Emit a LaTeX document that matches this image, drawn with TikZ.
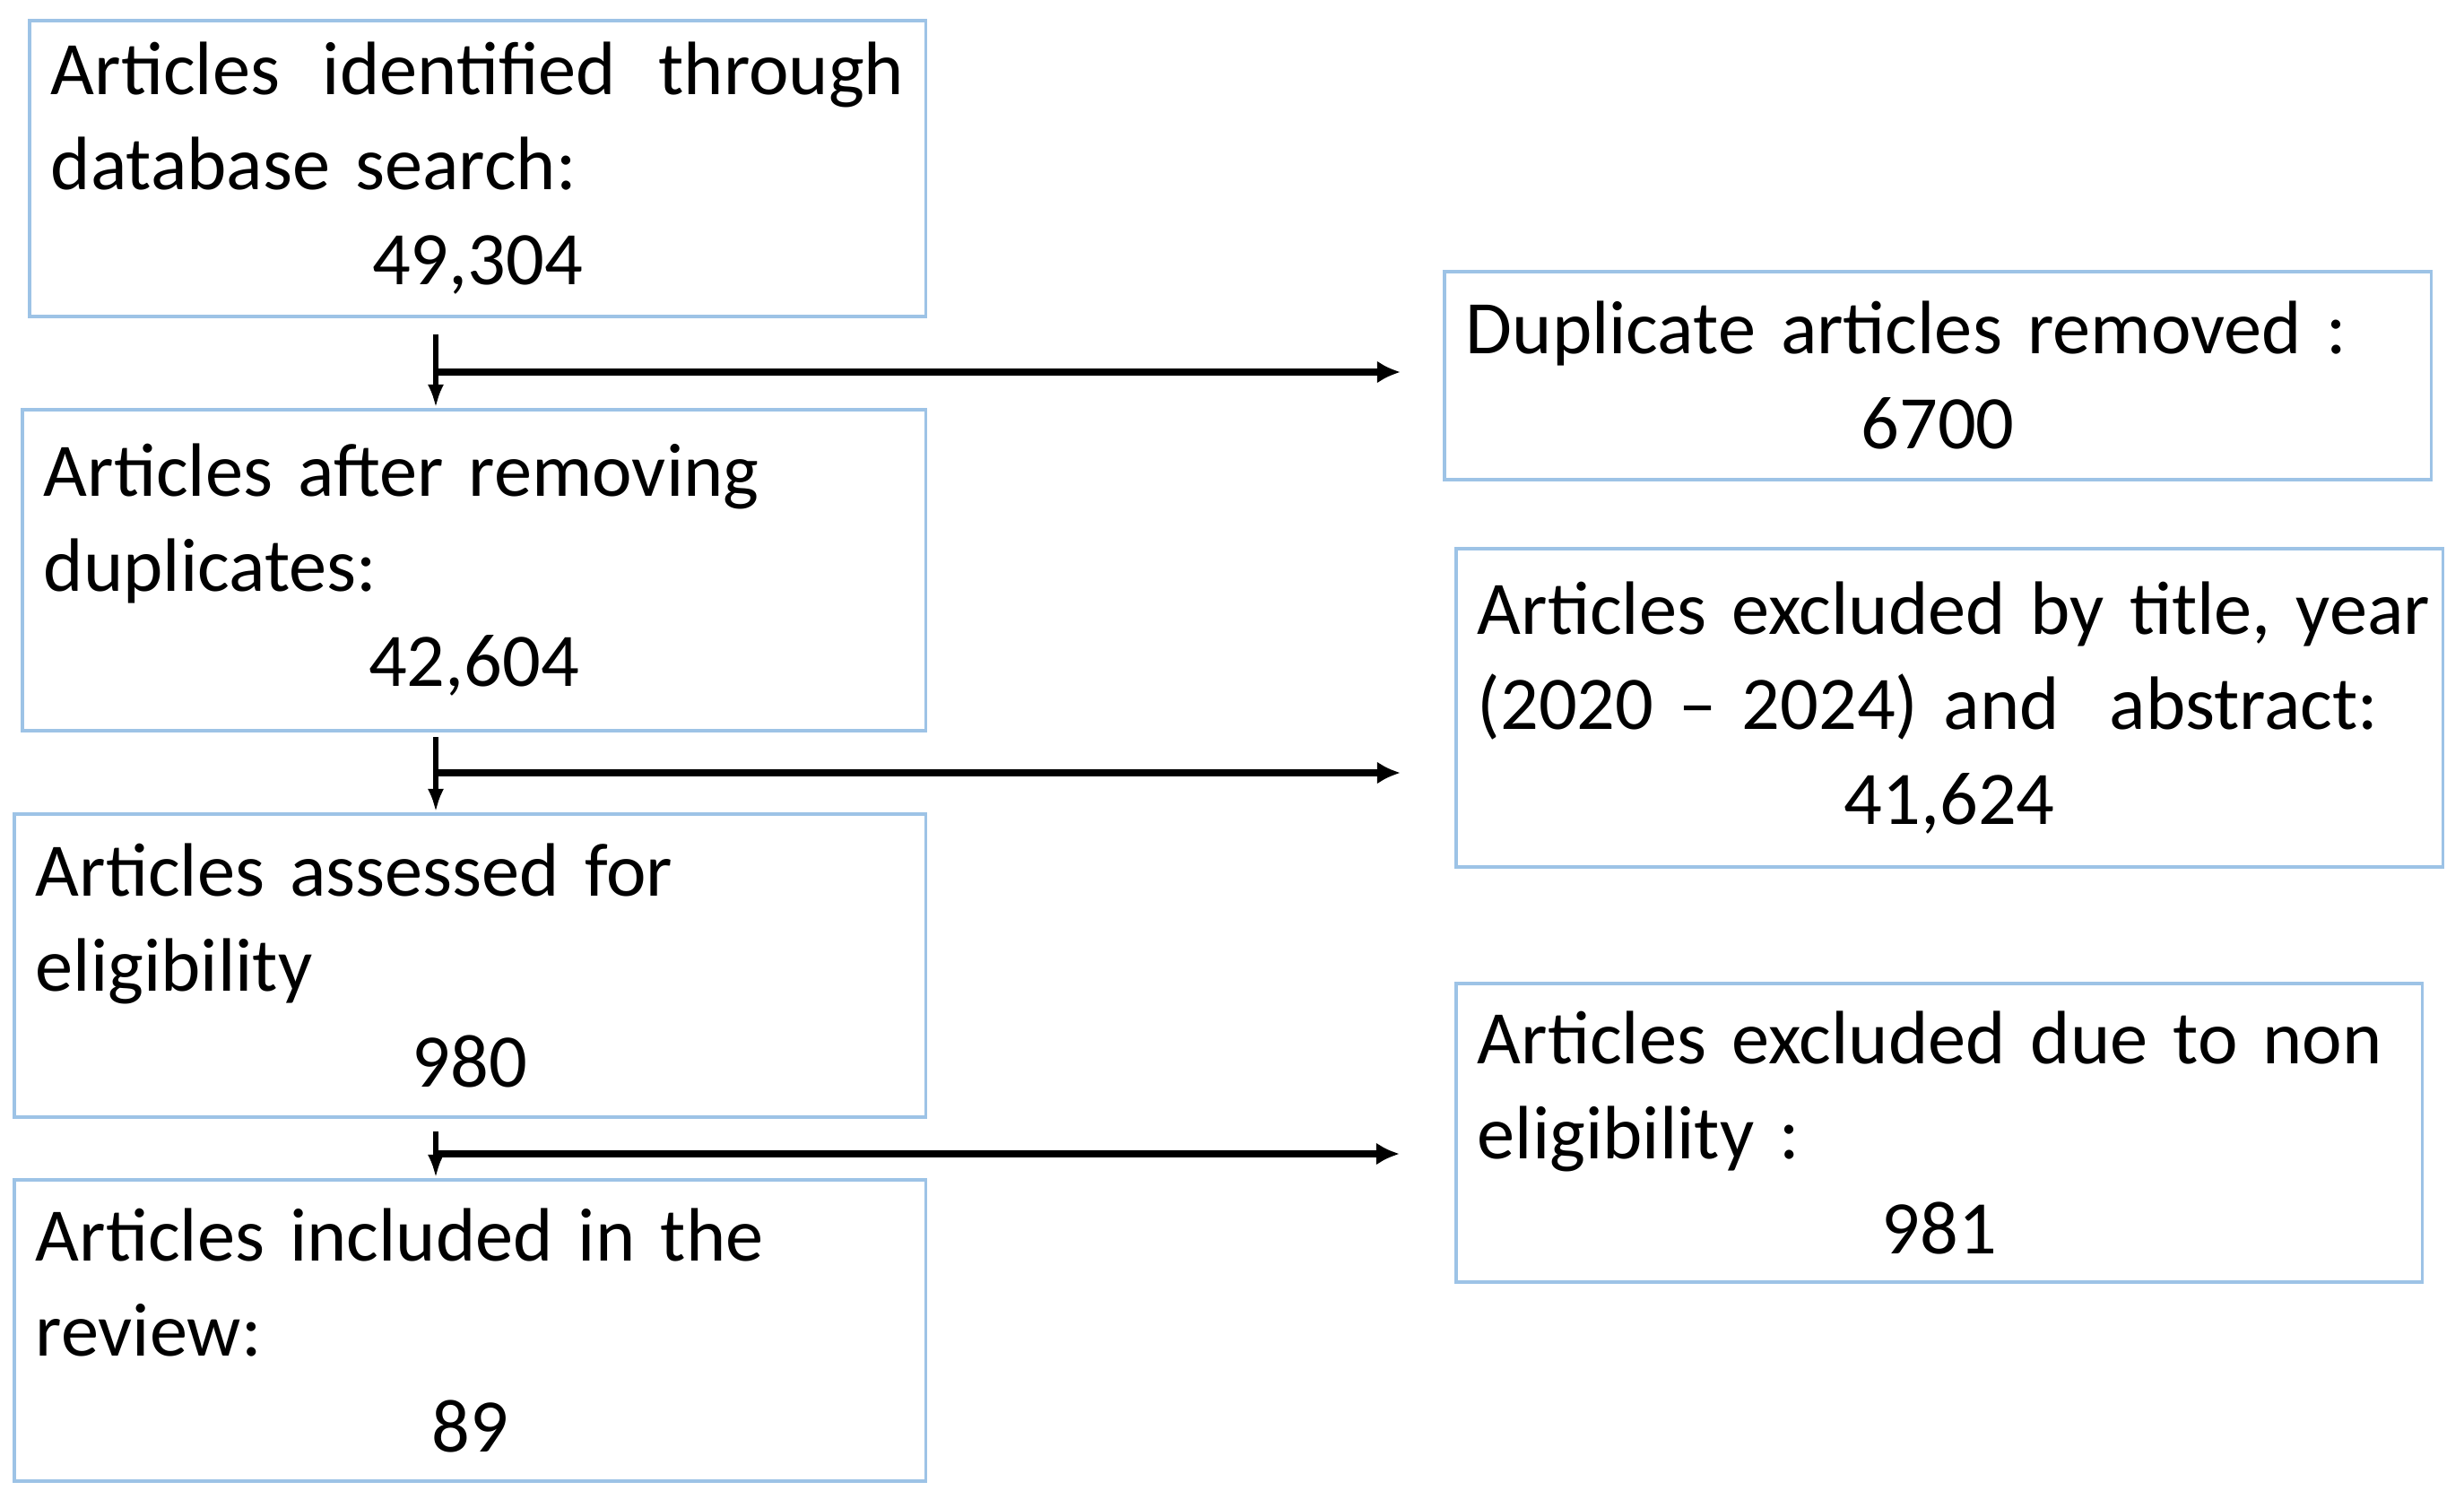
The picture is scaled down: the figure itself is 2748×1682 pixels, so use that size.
\documentclass[tikz,border=0pt]{standalone}
\usepackage{fontspec}
\setmainfont{Carlito}[WordSpace=0.85]
\usetikzlibrary{arrows.meta,calc}
\definecolor{boxblue}{HTML}{9DC3E6}
\setlength\parindent{0pt}
\newcommand{\midnum}[1]{\hspace*{\fill}#1\hspace*{\fill}\null}
\begin{document}
\begin{tikzpicture}[x=0.01cm,y=-0.01cm,
  box/.style={draw=boxblue,line width=1pt,anchor=north west,inner xsep=0.24cm,inner ysep=0pt,
    align=left,font=\fontsize{24}{30.2}\selectfont},
  vline/.style={line width=1.6pt,-{Latex[length=0.26cm,width=0.18cm]}},
  hline/.style={line width=2.4pt,-{Latex[length=0.26cm,width=0.25cm]}}]
\useasboundingbox (0,0) rectangle (2748,1682);

\node[box,minimum width=9.99cm,minimum height=3.30cm,text width=9.51cm] (b1) at (31,21)
  {Articles\hfill identified\hfill through\\database search:\\\midnum{49,304}};
\node[box,minimum width=10.07cm,minimum height=3.58cm,text width=9.59cm] (b2) at (23,455)
  {Articles after removing\\duplicates:\\\midnum{42,604}};
\node[box,minimum width=10.16cm,minimum height=3.38cm,text width=9.68cm] (b3) at (14,906)
  {Articles assessed for\\eligibility\\\midnum{980}};
\node[box,minimum width=10.16cm,minimum height=3.36cm,text width=9.68cm] (b4) at (14,1314)
  {Articles included in the\\review:\\\midnum{89}};

\node[box,minimum width=11.00cm,minimum height=2.32cm,text width=10.52cm] (dup) at (1609,301)
  {Duplicate articles removed :\\\midnum{6700}};
\node[box,minimum width=11.00cm,minimum height=3.55cm,text width=10.52cm] (ex1) at (1622,610)
  {\makebox[10.52cm][l]{Articles excluded by title, year}\\(2020 -- 2024) and\ \ abstract:\\\midnum{41,624}};
\node[box,minimum width=10.77cm,minimum height=3.33cm,text width=10.29cm] (ex2) at (1622,1095)
  {Articles excluded due to non\\eligibility :\\\midnum{981}};

\coordinate (v1) at (486,373);
\coordinate (j1) at (486,415);
\coordinate (t1) at ([xshift=-0.47cm]dup.west |- j1);
\draw[vline] (v1) -- (v1 |- b2.north);
\draw[hline] (j1) -- (t1);

\coordinate (v2) at (486,822);
\coordinate (j2) at (486,862);
\coordinate (t2) at ([xshift=-0.60cm]ex1.west |- j2);
\draw[vline] (v2) -- (v2 |- b3.north);
\draw[hline] (j2) -- (t2);

\coordinate (v3) at (486,1262);
\coordinate (j3) at (486,1287);
\coordinate (t3) at ([xshift=-0.61cm]ex2.west |- j3);
\draw[vline] (v3) -- (v3 |- b4.north);
\draw[hline] (j3) -- (t3);
\end{tikzpicture}
\end{document}
